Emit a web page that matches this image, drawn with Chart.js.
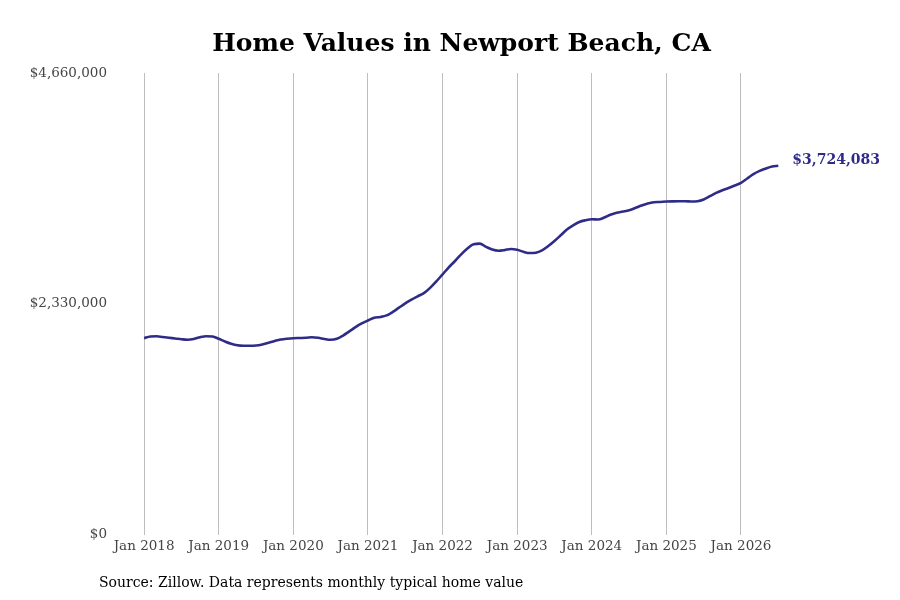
<!DOCTYPE html>
<html>
<head>
<meta charset="utf-8">
<script src="https://cdn.jsdelivr.net/npm/chart.js@4/dist/chart.umd.min.js"></script>
<style>
  html, body { margin: 0; padding: 0; background: #fff; }
  #wrap { position: relative; width: 900px; height: 600px; }
  #title { position: absolute; left: 0; width: 923px; top: 27px; text-align: center; font-family: "DejaVu Serif", serif; font-weight: bold; font-size: 25px; line-height: 32px; color: #000; white-space: nowrap; }
  #source { position: absolute; left: 99px; top: 574px; font-family: "DejaVu Serif", serif; font-size: 14px; color: #000; white-space: nowrap; }
</style>
</head>
<body>
<div id="wrap">
  <canvas id="c" width="900" height="600"></canvas>
  <div id="title">Home Values in Newport Beach, CA</div>
  <div id="source">Source: Zillow. Data represents monthly typical home value</div>
</div>
<script>
const startYear = 2018;
const yearTicks = [0, 12, 24, 36, 48, 60, 72, 84, 96];
const yTicks = [0, 2330000, 4660000];
const values2018 = [1984000, 2001000, 2004000, 1996000, 1988000, 1981000, 1973000, 1968000, 1976000, 1994000, 2004000, 2001000];
const values2019 = [1978000, 1951000, 1928000, 1912000, 1907000, 1907000, 1910000, 1921000, 1938000, 1956000, 1971000, 1979000];
const values2020 = [1984000, 1986000, 1988000, 1994000, 1988000, 1976000, 1968000, 1978000, 2011000, 2052000, 2095000, 2133000];
const values2021 = [2163000, 2190000, 2198000, 2214000, 2249000, 2292000, 2335000, 2372000, 2406000, 2439000, 2492000, 2557000];
const values2022 = [2628000, 2699000, 2763000, 2830000, 2888000, 2933000, 2938000, 2906000, 2878000, 2866000, 2873000, 2884000];
const values2023 = [2876000, 2856000, 2843000, 2847000, 2871000, 2914000, 2965000, 3022000, 3080000, 3123000, 3157000, 3174000];
const values2024 = [3184000, 3181000, 3201000, 3230000, 3250000, 3262000, 3275000, 3298000, 3322000, 3343000, 3356000, 3359000];
const values2025 = [3363000, 3365000, 3366000, 3366000, 3364000, 3366000, 3383000, 3417000, 3450000, 3477000, 3500000, 3525000];
const values2026 = [3551000, 3595000, 3639000, 3672000, 3697000, 3717000, 3724083];

const values = [].concat(values2018, values2019, values2020, values2021, values2022, values2023, values2024, values2025, values2026);
const points = values.map((v, i) => ({ x: i, y: v }));

const lineColor = '#2f2c88';
const fmt = v => '$' + Math.round(v).toLocaleString('en-US');

const endLabel = {
  id: 'endLabel',
  afterDatasetsDraw(chart) {
    const meta = chart.getDatasetMeta(0);
    const pt = meta.data[meta.data.length - 1];
    const ctx = chart.ctx;
    ctx.save();
    ctx.font = 'bold 14px "DejaVu Serif", serif';
    ctx.fillStyle = lineColor;
    ctx.textAlign = 'left';
    ctx.textBaseline = 'middle';
    ctx.fillText(fmt(values[values.length - 1]), pt.x + 14, pt.y - 5);
    ctx.restore();
  }
};

new Chart(document.getElementById('c'), {
  type: 'line',
  data: {
    datasets: [{
      data: points,
      borderColor: lineColor,
      borderWidth: 2.6,
      pointRadius: 0,
      fill: false,
      tension: 0.4,
      cubicInterpolationMode: 'monotone'
    }]
  },
  options: {
    responsive: false,
    animation: false,
    layout: { padding: { left: 0, right: 16, top: 73, bottom: 41 } },
    plugins: {
      legend: { display: false },
      tooltip: { enabled: false },
      title: { display: false }
    },
    scales: {
      x: {
        type: 'linear',
        min: -5,
        max: 119,
        afterBuildTicks(scale) { scale.ticks = yearTicks.map(v => ({ value: v })); },
        ticks: {
          color: '#444',
          font: { family: '"DejaVu Serif", serif', size: 13.5 },
          padding: 4,
          maxRotation: 0,
          autoSkip: false,
          callback: v => 'Jan ' + (startYear + v / 12)
        },
        grid: { display: true, color: '#bdbdbd', lineWidth: 1, drawTicks: false },
        border: { display: false }
      },
      y: {
        min: 0,
        max: 4660000,
        afterBuildTicks(scale) { scale.ticks = yTicks.map(v => ({ value: v })); },
        afterFit(scale) { scale.width = 113; },
        ticks: {
          color: '#444',
          font: { family: '"DejaVu Serif", serif', size: 13.5 },
          padding: 6,
          callback: v => fmt(v)
        },
        grid: { display: false, drawTicks: false },
        border: { display: false }
      }
    }
  },
  plugins: [endLabel]
});
</script>
</body>
</html>
